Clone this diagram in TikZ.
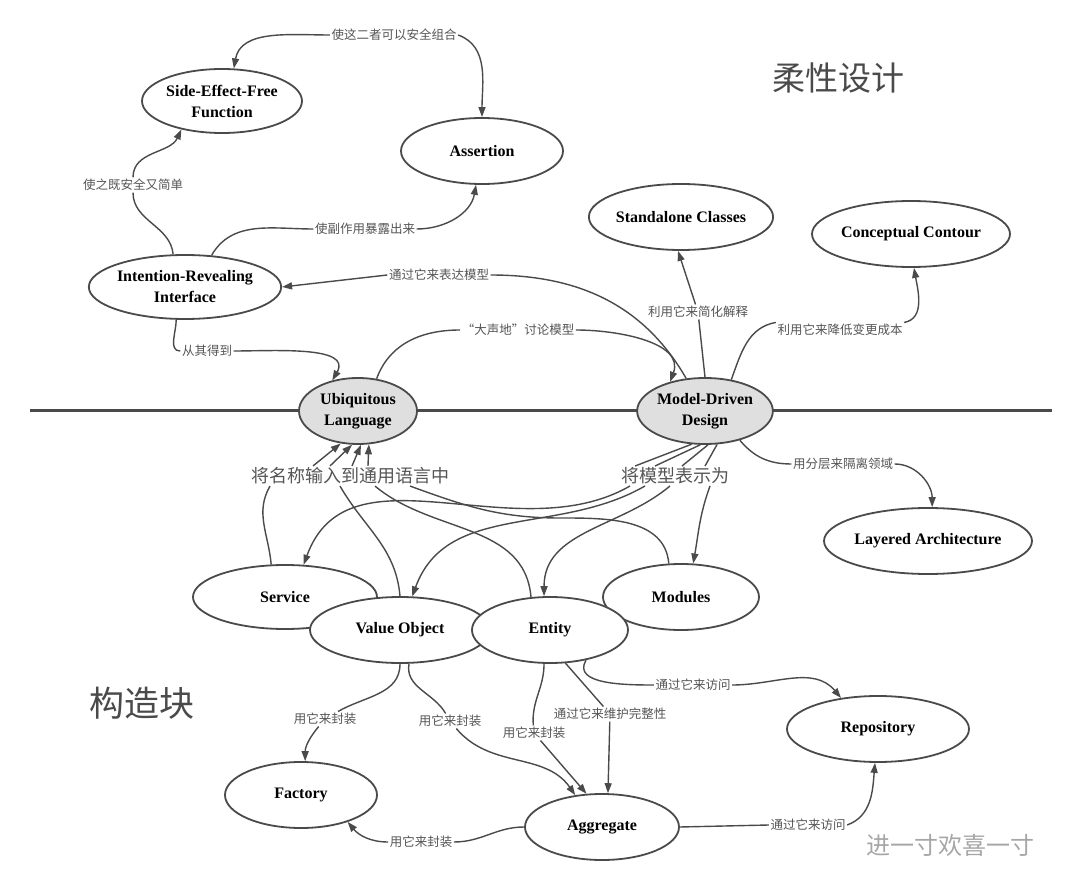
\documentclass[tikz,border=0pt]{standalone}
\usepackage{fontspec}
\setmainfont{Liberation Serif}
\newfontfamily\cjk{Noto Sans CJK SC}
\usetikzlibrary{shapes.geometric,arrows.meta,calc}
\definecolor{ink}{HTML}{4A4A4A}
\definecolor{lbl}{HTML}{555555}

\begin{document}
\begin{tikzpicture}[x=1pt, y=-1pt, line width=1.4pt, draw=ink,
    concept/.style={ellipse, draw=ink, fill=white, line width=1.8pt, align=center,
      font=\fontsize{16}{21}\selectfont\bfseries, inner sep=0pt},
    core/.style={concept, fill=gray!25},
    rel/.style={font=\cjk\fontsize{12.5}{13}\selectfont, text=lbl, fill=white, inner sep=1pt},
    biglbl/.style={font=\cjk\fontsize{18}{19}\selectfont, text=lbl, fill=white, inner sep=1pt},
    flow/.style={-{Triangle[length=10pt,width=7pt]}, ink}]
  \useasboundingbox (0,0) rectangle (1080,893);

  % --- the dividing line ---
  \draw[line width=3pt, ink] (30,411) -- (1052,411);

  % --- upper concepts ---
  \node[concept, minimum width=160pt, minimum height=64pt] (seff) at (222,101) {Side-Effect-Free\\Function};
  \node[concept, minimum width=162pt, minimum height=66pt] (assert) at (482,151) {Assertion};
  \node[concept, minimum width=182pt, minimum height=66pt] (standalone) at (681,217) {Standalone Classes};
  \node[concept, minimum width=184pt, minimum height=66pt] (contour) at (911,234) {Conceptual Contour};
  \node[concept, minimum width=160pt, minimum height=64pt] (iri) at (185,287) {Intention-Revealing\\Interface};
  \node[core, minimum width=118pt, minimum height=66pt] (ubiq) at (358,411) {Ubiquitous\\Language};
  \node[core, minimum width=134pt, minimum height=66pt] (mdd) at (705,411) {Model-Driven\\Design};
  \node[concept, minimum width=184pt, minimum height=66pt] (layered) at (928,541) {Layered Architecture};

  % --- building blocks ---
  \node[concept, minimum width=184pt, minimum height=64pt] (service) at (285,597) {Service};
  \node[concept, minimum width=156pt, minimum height=66pt] (modules) at (681,597) {Modules};
  \node[concept, minimum width=180pt, minimum height=66pt] (valobj) at (400,630) {Value Object};
  \node[concept, minimum width=156pt, minimum height=66pt] (entity) at (550,630) {Entity};
  \node[concept, minimum width=182pt, minimum height=66pt] (repo) at (878,729) {Repository};
  \node[concept, minimum width=152pt, minimum height=66pt] (factory) at (301,795) {Factory};
  \node[concept, minimum width=154pt, minimum height=66pt] (aggr) at (602,827) {Aggregate};

  % --- titles ---
  \node[font=\cjk\fontsize{33}{35}\selectfont, text=ink] (flex) at (838,78) {柔性设计};
  \node[font=\cjk\fontsize{35}{37}\selectfont, text=ink] (blocks) at (142,703) {构造块};
  \node[font=\cjk\fontsize{24}{26}\selectfont, text=gray!70] (mark) at (950,845) {进一寸欢喜一寸};

  % --- relation labels ---
  \node[rel] (lcombine) at (394,35) {使这二者可以安全组合};
  \node[rel] (lsimple) at (133,185) {使之既安全又简单};
  \node[rel] (lexpose) at (365,229) {使副作用暴露出来};
  \node[rel] (lexpress) at (439,275) {通过它来表达模型};
  \node[rel] (lderive) at (207,351) {从其得到};
  \node[rel] (lloud) at (518,330) {“大声地”讨论模型};
  \node[rel] (lexplain) at (698,312) {利用它来简化解释};
  \node[rel] (lcost) at (840,330) {利用它来降低变更成本};
  \node[rel] (llayer) at (843,464) {用分层来隔离领域};
  \node[biglbl] (lname) at (350,476) {将名称输入到通用语言中};
  \node[biglbl] (lrepr) at (675,476) {将模型表示为};
  \node[rel] (laccess) at (693,685) {通过它来访问};
  \node[rel] (lintegr) at (610,714) {通过它来维护完整性};
  \node[rel] (lencf) at (325,719) {用它来封装};
  \node[rel] (lencv) at (450,721) {用它来封装};
  \node[rel] (lence) at (534,733) {用它来封装};
  \node[rel] (lenca) at (421,842) {用它来封装};
  \node[rel] (laccess2) at (808,825) {通过它来访问};

  % --- upper relations ---
  \draw[flow] (lcombine.west) to[out=180,in=80] (seff.70);
  \draw[flow] (lcombine.east) to[out=-20,in=90] (assert.north);
  \draw (iri.110) to[out=95,in=-90] (lsimple);
  \draw[flow] (lsimple) to[out=90,in=-115] (seff.215);
  \draw (iri.50) to[out=60,in=180] (lexpose.west);
  \draw[flow] (lexpose.east) to[out=0,in=-100] (assert.-100);
  \draw (mdd.120) to[out=120,in=0] (lexpress.east);
  \draw[flow] (lexpress.west) -- (iri.east);
  \draw (iri.-105) to[out=-90,in=180] (lderive.west);
  \draw[flow] (lderive.east) to[out=0,in=60] (ubiq.130);
  \draw (ubiq.60) to[out=70,in=180] (lloud.west);
  \draw[flow] (lloud.east) to[out=0,in=70] (mdd.140);
  \draw (mdd.90) -- (lexplain);
  \draw[flow] (lexplain) -- (standalone.-95);
  \draw (mdd.50) to[out=70,in=190] (lcost.north west);
  \draw[flow] (lcost.north east) to[out=10,in=-80] (contour.-85);
  \draw (mdd.-40) to[out=-50,in=180] (llayer.west);
  \draw[flow] (llayer.east) to[out=0,in=90] (layered.83);

  % --- names flowing into the language ---
  \foreach \dx/\ang in {-37/-118,-20/-100,2/-85,18/-72}
    \draw[flow] ($(lname.north)+(\dx,0)$) -- (ubiq.\ang);
  \draw (service.113) to[out=95,in=-120] ($(lname.south)+(-80,0)$);
  \draw (valobj.90) to[out=95,in=-60] ($(lname.south)+(-10,0)$);
  \draw (entity.120) to[out=95,in=-40] ($(lname.south)+(25,0)$);
  \draw (modules.110) to[out=95,in=0] (560,518) to[out=180,in=-20] ($(lname.south)+(60,0)$);

  % --- the model expressed as building blocks ---
  \foreach \dx/\ang in {-40/-112,-20/-98,7/-85,30/-70}
    \draw ($(lrepr.north)+(\dx,0)$) -- (mdd.\ang);
  \draw[flow] ($(lrepr.south)+(-45,0)$) to[out=-150,in=70] (service.60);
  \draw[flow] ($(lrepr.south)+(-30,0)$) to[out=-150,in=70] (valobj.70);
  \draw[flow] ($(lrepr.south)+(-5,0)$) to[out=-140,in=90] (entity.100);
  \draw[flow] ($(lrepr.south)+(35,0)$) to[out=-110,in=80] (modules.70);

  % --- lower relations ---
  \draw (entity.-40) to[out=-120,in=180] (laccess.west);
  \draw[flow] (laccess.east) to[out=0,in=130] (repo.140);
  \draw (entity.-65) -- (lintegr);
  \draw[flow] (lintegr) -- (aggr.80);
  \draw (entity.-100) to[out=-90,in=95] (lence);
  \draw[flow] (lence) -- (aggr.115);
  \draw (valobj.-75) to[out=-100,in=120] (lencv);
  \draw[flow] (lencv) to[out=-50,in=125] (aggr.130);
  \draw (valobj.-90) to[out=-90,in=30] (lencf);
  \draw[flow] (lencf) to[out=-130,in=90] (factory.83);
  \draw (aggr.west) to[out=180,in=0] (lenca.east);
  \draw[flow] (lenca.west) to[out=180,in=-50] (factory.-30);
  \draw (aggr.east) -- (laccess2.west);
  \draw[flow] (laccess2.east) to[out=20,in=-95] (repo.-95);
\end{tikzpicture}
\end{document}
